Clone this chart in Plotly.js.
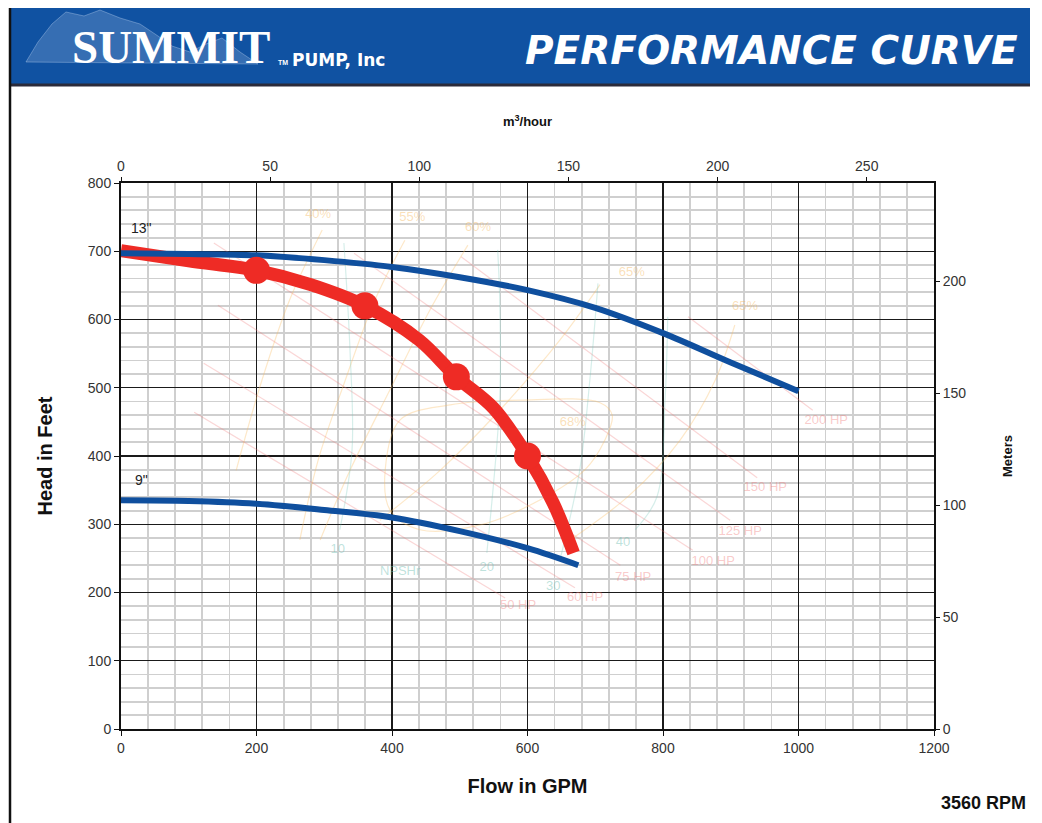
<!DOCTYPE html>
<html><head><meta charset="utf-8">
<script src="https://cdn.plot.ly/plotly-3.0.1.min.js"></script>
<style>html,body{margin:0;padding:0;background:#fff}#chart{width:1042px;height:823px}</style>
</head><body><div id="chart"></div>
<script>
// ---------- data ----------
const curve13_gpm  = [0,100,200,300,400,500,600,700,800,900,1000];
const curve13_head = [697,696,694,687,677,662,643,617,580,537,495];
const curve9_gpm   = [0,100,200,300,400,500,600,675];
const curve9_head  = [335,334,330,321,310,290,265,240];
const system_gpm   = [0,100,200,280,360,440,495,550,600,638,668];
const system_head  = [701,686,672,651,620,570,516,470,400,331,258];
const point_gpm    = [200,360,495,600];
const point_head   = [672,620,516,400];
const curve_labels = ['13"','9"'];
const curve_label_gpm  = [30,30];
const curve_label_head = [732,363];

// horsepower lines (faint)
const hp_labels     = ['50 HP','60 HP','75 HP','100 HP','125 HP','150 HP','200 HP'];
const hp_start_gpm  = [108,122,143,137,344,502,837];
const hp_start_head = [464,536,621,712,697,692,604];
const hp_end_gpm    = [567,670,737,844,899,939,1021];
const hp_end_head   = [192,207,240,262,306,368,467];
const hp_label_gpm  = [586,685,756,874,914,951,1041];
const hp_label_head = [180,192,221,245,289,353,451];

// efficiency curves (faint)
const eff_labels     = ['40%','55%','60%','65%','65%','68%'];
const eff_label_gpm  = [291,430,527,754,921,667];
const eff_label_head = [753,749,734,668,618,448];
const eff40_gpm  = [170,208,249,297];       const eff40_head  = [379,511,629,731];
const eff55_gpm  = [264,291,331,375,419];   const eff55_head  = [277,394,511,629,716];
const eff60_gpm  = [294,338,397,456,512];   const eff60_head  = [277,379,497,614,709];
const eff65a_gpm = [382,471,559,648,707];   const eff65a_head = [306,379,467,570,651];
const eff65b_gpm = [663,751,825,877,906];   const eff65b_head = [277,343,423,511,592];
const eff68_gpm  = [412,486,589,707,725,714,685,619,530,441,397,390,412];
const eff68_head = [453,475,482,478,460,423,380,336,299,292,321,380,453];

// NPSHr curves (faint)
const npsh_labels     = ['10','20','30','40','NPSHr'];
const npsh_label_gpm  = [320,540,638,741,412];
const npsh_label_head = [262,237,208,273,230];
const npsh10_gpm = [329,338,341,323];  const npsh10_head = [712,555,409,292];
const npsh20_gpm = [556,559,559,540];  const npsh20_head = [702,629,482,258];
const npsh30_gpm = [704,692,677,648];  const npsh30_head = [653,511,379,248];
const npsh40_gpm = [807,803,791,759];  const npsh40_head = [604,482,340,292];

const GPM_PER_M3H = 4.40287;
const FT_PER_M = 3.28084;
const gpmMax = 1200, ftMax = 800;

// ---------- styling ----------
const RED = '#ee2b25', BLUE = '#0f4f9e';
const HPC = 'rgba(240,120,120,0.3)', EFC = 'rgba(250,190,100,0.35)', NPC = 'rgba(120,200,185,0.3)';
const tickFont = {family:'"Liberation Sans Narrow","Arial Narrow","Liberation Sans",Arial,sans-serif', size:14, color:'#333'};
const boldFont = (s)=>({family:'"Liberation Sans",Arial,sans-serif', size:s, color:'#111', weight:'bold'});

const traces = [];
function faintLine(x,y,color,w){ traces.push({x:x,y:y,mode:'lines',line:{color:color,width:w||1,shape:'spline'},hoverinfo:'skip'}); }
for (let i=0;i<hp_labels.length;i++) faintLine([hp_start_gpm[i],hp_end_gpm[i]],[hp_start_head[i],hp_end_head[i]],HPC,1.2);
[[eff40_gpm,eff40_head],[eff55_gpm,eff55_head],[eff60_gpm,eff60_head],[eff65a_gpm,eff65a_head],[eff65b_gpm,eff65b_head],[eff68_gpm,eff68_head]].forEach(c=>faintLine(c[0],c[1],EFC,1.2));
[[npsh10_gpm,npsh10_head],[npsh20_gpm,npsh20_head],[npsh30_gpm,npsh30_head],[npsh40_gpm,npsh40_head]].forEach(c=>faintLine(c[0],c[1],NPC,1.2));
traces.push({x:hp_label_gpm,y:hp_label_head,text:hp_labels,mode:'text',textfont:{family:'"Liberation Sans",Arial',size:13,color:'rgba(240,120,120,0.4)'},hoverinfo:'skip'});
traces.push({x:eff_label_gpm,y:eff_label_head,text:eff_labels,mode:'text',textfont:{family:'"Liberation Sans",Arial',size:13,color:'rgba(245,185,100,0.45)'},hoverinfo:'skip'});
traces.push({x:npsh_label_gpm,y:npsh_label_head,text:npsh_labels,mode:'text',textfont:{family:'"Liberation Sans",Arial',size:13,color:'rgba(110,190,175,0.45)'},hoverinfo:'skip'});

// main curves
traces.push({x:curve9_gpm,y:curve9_head,mode:'lines',line:{color:BLUE,width:6,shape:'spline'},hoverinfo:'x+y'});
traces.push({x:system_gpm,y:system_head,mode:'lines',line:{color:RED,width:13,shape:'spline'},hoverinfo:'x+y'});
traces.push({x:curve13_gpm,y:curve13_head,mode:'lines',line:{color:BLUE,width:6,shape:'spline'},hoverinfo:'x+y'});
traces.push({x:point_gpm,y:point_head,mode:'markers',marker:{color:RED,size:27},hoverinfo:'x+y'});
traces.push({x:curve_label_gpm,y:curve_label_head,text:curve_labels,mode:'text',textfont:{family:'"Liberation Sans",Arial',size:14,color:'#222'},hoverinfo:'skip'});
// empty traces so the secondary (m3/hour, meters) axes are drawn
traces.push({x:[],y:[],xaxis:'x2',yaxis:'y',mode:'lines',hoverinfo:'skip'});
traces.push({x:[],y:[],xaxis:'x',yaxis:'y2',mode:'lines',hoverinfo:'skip'});

// ---------- page geometry helpers (layout only) ----------
const W=1042,H=823,ML=121,MR=108,MT=183,MB=94;
const PW=W-ML-MR, PH=H-MT-MB;
const PX = px => (px-ML)/PW;
const PY = py => (H-MB-py)/PH;

const mountain = [[26,62],[38,42],[52,24],[66,12],[84,16],[100,10],[120,18],[140,24],[158,36],[172,46],[190,52],[206,44],[222,38],[240,52],[258,64]];
const mpath = 'M' + mountain.map(p=>PX(p[0]).toFixed(4)+','+PY(p[1]).toFixed(4)).join(' L') + ' Z';

const layout = {
  width:W, height:H, margin:{l:ML,r:MR,t:MT,b:MB,pad:0},
  paper_bgcolor:'#fff', plot_bgcolor:'#fff', showlegend:false,
  xaxis:{range:[0,gpmMax], dtick:200, tick0:0, showgrid:true, gridcolor:'#1a1a1a', gridwidth:1.2,
    minor:{dtick:40, showgrid:true, gridcolor:'#cfcfcf', gridwidth:1.8},
    showline:true, linecolor:'#111', linewidth:2, mirror:true, zeroline:false,
    ticks:'outside', ticklen:5, tickcolor:'#111', tickfont:tickFont,
    title:{text:'Flow in GPM', font:boldFont(20), standoff:24}},
  yaxis:{range:[0,ftMax], dtick:100, tick0:0, showgrid:true, gridcolor:'#1a1a1a', gridwidth:1.2,
    minor:{dtick:20, showgrid:true, gridcolor:'#cfcfcf', gridwidth:1.8},
    showline:true, linecolor:'#111', linewidth:2, mirror:true, zeroline:false,
    ticks:'outside', ticklen:5, tickcolor:'#111', tickfont:tickFont,
    title:{text:'Head in Feet', font:boldFont(20), standoff:30}},
  xaxis2:{overlaying:'x', side:'top', anchor:'y', range:[0,gpmMax/GPM_PER_M3H], dtick:50, tick0:0,
    showgrid:false, zeroline:false, showline:false, ticks:'outside', ticklen:5, tickcolor:'#111', tickfont:tickFont,
    title:{text:'m<sup>3</sup>/hour', font:boldFont(13), standoff:28}},
  yaxis2:{overlaying:'y', side:'right', anchor:'x', range:[0,ftMax/FT_PER_M], dtick:50, tick0:0,
    showgrid:false, zeroline:false, showline:false, ticks:'outside', ticklen:5, tickcolor:'#111', tickfont:tickFont,
    title:{text:'Meters', font:boldFont(13), standoff:37}},
  shapes:[
    {type:'rect', xref:'paper', yref:'paper', x0:PX(10), x1:PX(1030), y0:PY(84), y1:PY(8), fillcolor:'#1052a2', line:{width:0}, layer:'above'},
    {type:'path', xref:'paper', yref:'paper', path:mpath, fillcolor:'rgba(190,210,240,0.22)', line:{color:'rgba(200,220,245,0.35)',width:1}},
    {type:'line', xref:'paper', yref:'paper', x0:PX(10), x1:PX(1030), y0:PY(85), y1:PY(85), line:{color:'#2b2b3a', width:3}},
    {type:'line', xref:'paper', yref:'paper', x0:PX(10), x1:PX(10), y0:PY(8), y1:PY(823), line:{color:'#111', width:2.5}}
  ],
  annotations:[
    {xref:'paper',yref:'paper',x:PX(70),y:PY(47),xanchor:'left',yanchor:'middle',showarrow:false,text:'<b>SUMMIT</b>',font:{family:'"Liberation Serif","Times New Roman",serif',size:47,color:'#ffffff'}},
    {xref:'paper',yref:'paper',x:PX(276),y:PY(63),xanchor:'left',yanchor:'middle',showarrow:false,text:'<b>TM</b>',font:{family:'"Liberation Sans",Arial',size:7,color:'#fff'}},
    {xref:'paper',yref:'paper',x:PX(290),y:PY(60),xanchor:'left',yanchor:'middle',showarrow:false,text:'<b>PUMP, Inc</b>',font:{family:'"DejaVu Sans",sans-serif',size:17,color:'#fff'}},
    {xref:'paper',yref:'paper',x:PX(1020),y:PY(50),xanchor:'right',yanchor:'middle',showarrow:false,text:'<b><i>PERFORMANCE CURVE</i></b>',font:{family:'"DejaVu Sans",sans-serif',size:39,color:'#fff'}},
    {xref:'paper',yref:'paper',x:PX(1028),y:PY(803),xanchor:'right',yanchor:'middle',showarrow:false,text:'<b>3560 RPM</b>',font:{family:'"Liberation Sans",Arial',size:18,color:'#111'}}
  ]
};

Plotly.newPlot('chart', traces, layout, {staticPlot:true, displayModeBar:false});
</script></body></html>
